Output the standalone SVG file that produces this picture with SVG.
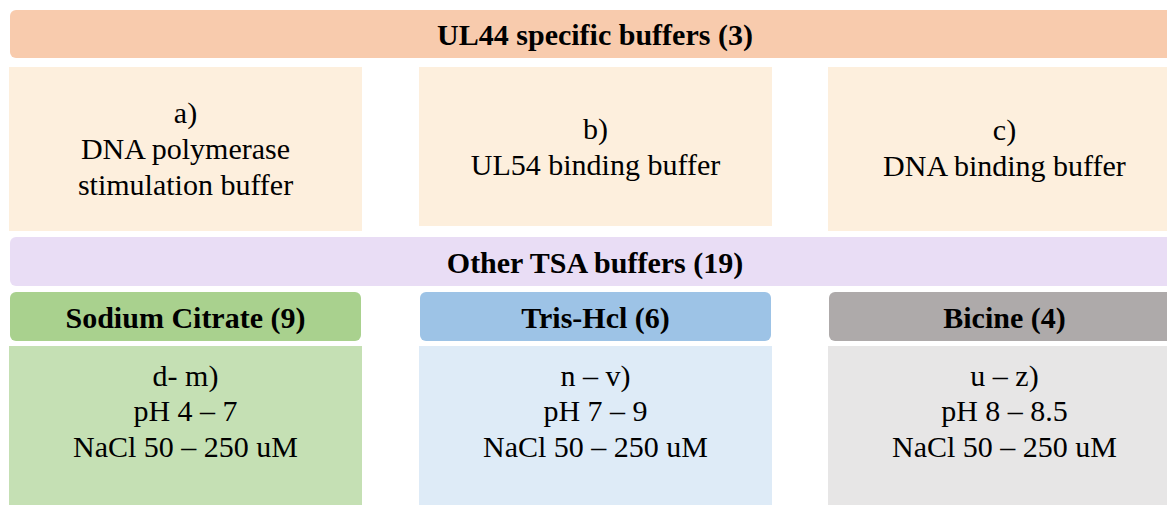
<svg xmlns="http://www.w3.org/2000/svg" width="1167" height="505" viewBox="0 0 1167 505">
<style>
text{font-family:"Liberation Serif","Times New Roman",serif;font-size:30px;fill:#000;text-anchor:middle}
.b{font-weight:bold}
.ban1{fill:#F8CBAD}
.spec{fill:#FDEFDD}
.ban2{fill:#E9DDF5}
.gh{fill:#A9D18E}.gb{fill:#C5E0B4}
.bh{fill:#9DC3E6}.bb{fill:#DEEBF7}
.kh{fill:#AEAAAA}.kb{fill:#E7E6E6}
</style>
<rect width="1167" height="505" fill="#fff"/>
<g id="ul44-header">
<rect class="ban1" x="10" y="10" width="1172" height="48" rx="6"/>
<text class="b" x="595" y="45">UL44 specific buffers (3)</text>
</g>
<g id="buffer-a">
<rect class="spec" x="9" y="67" width="353" height="164"/>
<text x="185.5" y="123">a)</text>
<text x="185.5" y="159">DNA polymerase</text>
<text x="185.5" y="195">stimulation buffer</text>
</g>
<g id="buffer-b">
<rect class="spec" x="419" y="67" width="353" height="159"/>
<text x="595.5" y="139">b)</text>
<text x="595.5" y="175">UL54 binding buffer</text>
</g>
<g id="buffer-c">
<rect class="spec" x="828" y="67" width="353" height="164"/>
<text x="1004.5" y="140">c)</text>
<text x="1004.5" y="176">DNA binding buffer</text>
</g>
<g id="other-header">
<rect class="ban2" x="10" y="237" width="1172" height="49" rx="6"/>
<text class="b" x="595" y="273">Other TSA buffers (19)</text>
</g>
<g id="sodium-citrate">
<rect class="gh" x="10" y="292" width="351" height="49" rx="6"/>
<text class="b" x="185.5" y="328">Sodium Citrate (9)</text>
<rect class="gb" x="9" y="346" width="353" height="165"/>
<text x="185.5" y="386">d- m)</text>
<text x="185.5" y="421">pH 4 – 7</text>
<text x="185.5" y="457">NaCl 50 – 250 uM</text>
</g>
<g id="tris-hcl">
<rect class="bh" x="420" y="292" width="351" height="49" rx="6"/>
<text class="b" x="595.5" y="328">Tris-Hcl (6)</text>
<rect class="bb" x="419" y="346" width="353" height="165"/>
<text x="595.5" y="386">n – v)</text>
<text x="595.5" y="421">pH 7 – 9</text>
<text x="595.5" y="457">NaCl 50 – 250 uM</text>
</g>
<g id="bicine">
<rect class="kh" x="829" y="292" width="351" height="49" rx="6"/>
<text class="b" x="1004.5" y="328">Bicine (4)</text>
<rect class="kb" x="828" y="346" width="353" height="165"/>
<text x="1004.5" y="386">u – z)</text>
<text x="1004.5" y="421">pH 8 – 8.5</text>
<text x="1004.5" y="457">NaCl 50 – 250 uM</text>
</g>
<g id="connectors"/>
</svg>
